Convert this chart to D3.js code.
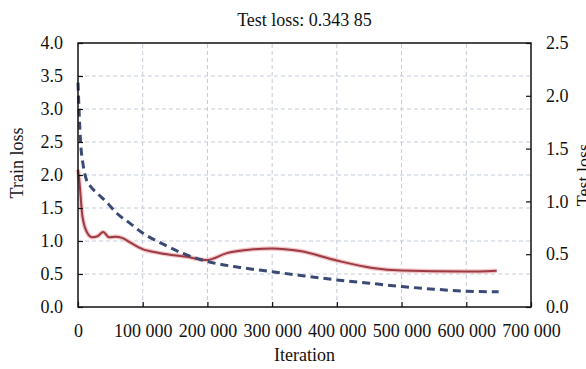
<!DOCTYPE html>
<html>
<head>
<meta charset="utf-8">
<script src="https://cdn.jsdelivr.net/npm/d3@7"></script>
<style>
  body { margin: 0; background: #fff; overflow: hidden; }
  svg text { font-family: 'Liberation Serif', 'Times New Roman', Times, 'DejaVu Serif', serif; fill: #111; }
</style>
</head>
<body>
<div id="chart"></div>
<script>
// train loss (left axis)
const trainIter = [0, 2000, 4000, 8000, 13000, 20000, 30000, 45000, 60000, 80000, 100000, 130000, 160000, 200000, 250000, 300000, 350000, 400000, 450000, 500000, 550000, 600000, 650000];
const trainLoss = [3.4, 2.9, 2.5, 2.15, 1.93, 1.82, 1.72, 1.58, 1.42, 1.27, 1.12, 0.96, 0.82, 0.69, 0.6, 0.535, 0.47, 0.41, 0.36, 0.31, 0.27, 0.24, 0.23];

// test loss (right axis)
const testIter = [0, 1500, 6800, 14500, 22000, 30000, 39000, 48000, 58000, 68000, 81000, 99000, 127000, 168000, 199000, 230000, 260000, 300000, 343000, 400000, 455000, 500000, 600000, 647000];
const testLoss = [1.3, 1.23, 0.86, 0.70, 0.66, 0.67, 0.71, 0.66, 0.665, 0.655, 0.61, 0.55, 0.51, 0.475, 0.445, 0.51, 0.54, 0.555, 0.53, 0.44, 0.37, 0.345, 0.335, 0.344];

const xTicks = [0, 100000, 200000, 300000, 400000, 500000, 600000, 700000];
const leftTicks = [0, 0.5, 1, 1.5, 2, 2.5, 3, 3.5, 4];
const rightTicks = [0, 0.5, 1, 1.5, 2, 2.5];

const width = 586, height = 369;
const margin = {top: 43, right: 55, bottom: 62, left: 78};
const serif = "'Liberation Serif', 'Times New Roman', Times, serif";

const svg = d3.select('#chart').append('svg')
  .attr('width', width)
  .attr('height', height)
  .attr('font-family', serif);

const x = d3.scaleLinear().domain([0, 700000]).range([margin.left, width - margin.right]);
const yL = d3.scaleLinear().domain([0, 4]).range([height - margin.bottom, margin.top]);
const yR = d3.scaleLinear().domain([0, 2.5]).range([height - margin.bottom, margin.top]);

const fmtX = d => d3.format(',')(d).replace(/,/g, ' ');

// grid
const grid = svg.append('g')
  .attr('stroke', '#c3cbd9')
  .attr('stroke-width', 1)
  .attr('stroke-dasharray', '4,3');
grid.selectAll('.gx').data(xTicks.slice(1, -1)).join('line')
  .attr('x1', d => x(d)).attr('x2', d => x(d))
  .attr('y1', yL(0)).attr('y2', yL(4));
grid.selectAll('.gy').data(leftTicks.slice(1, -1)).join('line')
  .attr('x1', x(0)).attr('x2', x(700000))
  .attr('y1', d => yL(d)).attr('y2', d => yL(d));

// lines
const trainLine = d3.line().x(d => x(d[0])).y(d => yL(d[1])).curve(d3.curveMonotoneX);
const testLine = d3.line().x(d => x(d[0])).y(d => yR(d[1])).curve(d3.curveMonotoneX);
const testPts = d3.zip(testIter, testLoss);
const trainPts = d3.zip(trainIter, trainLoss);

svg.append('path').attr('d', testLine(testPts))
  .attr('fill', 'none').attr('stroke', '#f2c6c8').attr('stroke-width', 4.5);
svg.append('path').attr('d', testLine(testPts))
  .attr('fill', 'none').attr('stroke', '#9c3a44').attr('stroke-width', 2);
svg.append('path').attr('d', trainLine(trainPts))
  .attr('fill', 'none').attr('stroke', '#3b4a74').attr('stroke-width', 3)
  .attr('stroke-dasharray', '8,5');

// axes
const tickStyle = g => {
  g.attr('font-family', serif).attr('font-size', 18);
  g.select('.domain').remove();
  g.selectAll('.tick line').attr('stroke', '#111').attr('stroke-width', 1.2);
  g.selectAll('.tick text').attr('fill', '#111');
};

svg.append('g').attr('transform', `translate(0,${yL(0)})`)
  .call(d3.axisBottom(x).tickValues(xTicks).tickFormat(fmtX).tickSizeInner(-5).tickSizeOuter(0).tickPadding(17))
  .call(tickStyle);

svg.append('g').attr('transform', `translate(${x(0)},0)`)
  .call(d3.axisLeft(yL).tickValues(leftTicks).tickFormat(d3.format('.1f')).tickSizeInner(-5).tickSizeOuter(0).tickPadding(15))
  .call(tickStyle);

svg.append('g').attr('transform', `translate(${x(700000)},0)`)
  .call(d3.axisRight(yR).tickValues(rightTicks).tickFormat(d3.format('.1f')).tickSizeInner(-5).tickSizeOuter(0).tickPadding(15))
  .call(tickStyle);

// frame
svg.append('rect')
  .attr('x', x(0)).attr('y', yL(4))
  .attr('width', x(700000) - x(0)).attr('height', yL(0) - yL(4))
  .attr('fill', 'none').attr('stroke', '#111').attr('stroke-width', 1.5);

// labels
svg.append('text').attr('x', (x(0) + x(700000)) / 2).attr('y', 26)
  .attr('text-anchor', 'middle').attr('font-size', 18).text('Test loss: 0.343 85');
svg.append('text').attr('x', (x(0) + x(700000)) / 2).attr('y', 361)
  .attr('text-anchor', 'middle').attr('font-size', 18).text('Iteration');
svg.append('text').attr('transform', 'translate(23,163) rotate(-90)')
  .attr('text-anchor', 'middle').attr('font-size', 18).text('Train loss');
// right label sits mostly past the edge, as in the source image
svg.append('text').attr('transform', 'translate(590,175) rotate(-90)')
  .attr('text-anchor', 'middle').attr('font-size', 18).text('Test loss');
</script>
</body>
</html>
